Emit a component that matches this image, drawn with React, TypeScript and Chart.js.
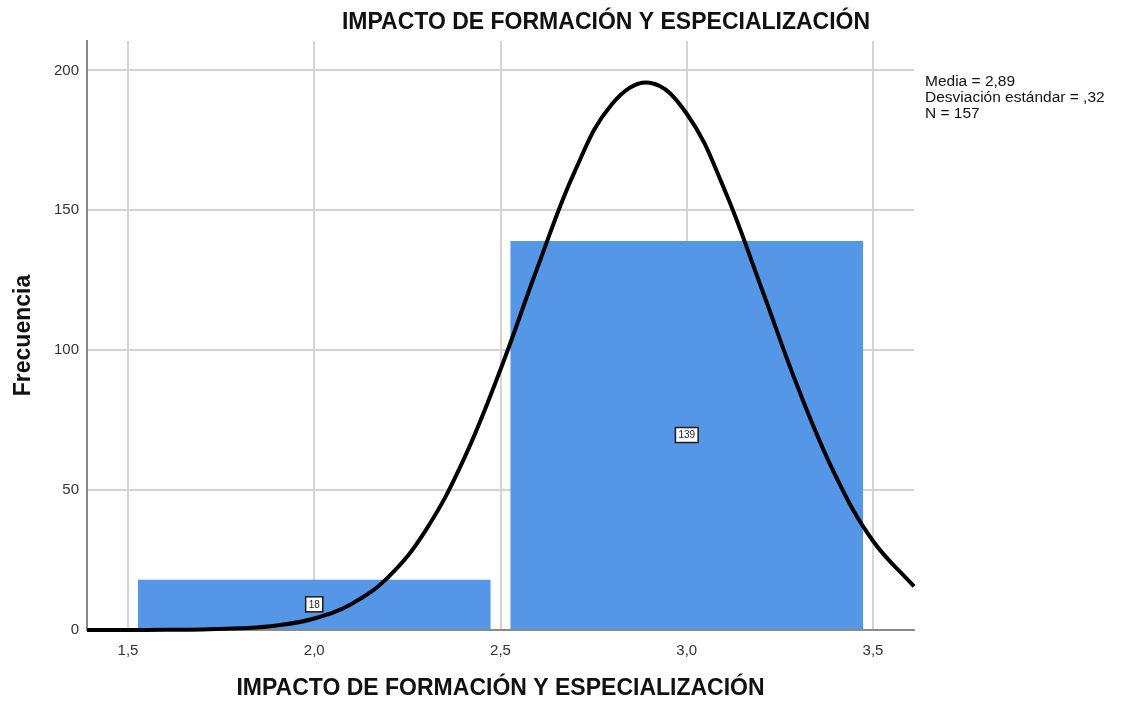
import React, { useEffect, useRef } from "react";
import { Chart, registerables } from "chart.js";

Chart.register(...registerables);

const chartTitle = "IMPACTO DE FORMACIÓN Y ESPECIALIZACIÓN";
const xAxisTitle = "IMPACTO DE FORMACIÓN Y ESPECIALIZACIÓN";
const yAxisTitle = "Frecuencia";
const statsLines = ["Media = 2,89", "Desviación estándar = ,32", "N = 157"];

// histogram bins (centers) and frequencies
const binCenters = [2.0, 3.0];
const binCounts = [18, 139];

// normal curve
const curveX = [1.39, 1.5, 1.6, 1.7, 1.8, 1.9, 2.0, 2.1, 2.2, 2.3, 2.4, 2.5, 2.6, 2.7, 2.8, 2.9, 3.0, 3.1, 3.2, 3.3, 3.4, 3.5, 3.61];
const curveY = [0.0, 0.02, 0.06, 0.19, 0.6, 1.6, 4.1, 9.3, 19.1, 35.8, 60.6, 93.1, 129.8, 164.1, 188.1, 195.6, 184.5, 157.8, 122.4, 86.1, 55.0, 31.8, 15.6];

const xMin = 1.39;
const xMax = 3.61;
const yMax = 210.5;

const FONT = "'Liberation Sans', Arial, sans-serif";

export default function App() {
  const canvasRef = useRef<HTMLCanvasElement | null>(null);

  useEffect(() => {
    if (!canvasRef.current) return;

    const labelPlugin = {
      id: "barLabels",
      afterDatasetsDraw(chart: any) {
        const ctx = chart.ctx;
        const meta = chart.getDatasetMeta(1);
        ctx.save();
        ctx.font = `10px ${FONT}`;
        ctx.textAlign = "center";
        ctx.textBaseline = "middle";
        meta.data.forEach((el: any, i: number) => {
          const cx = el.x;
          const cy = (el.y + el.base) / 2;
          const txt = String(binCounts[i]);
          const w = ctx.measureText(txt).width + 6;
          const h = 15;
          ctx.fillStyle = "#ffffff";
          ctx.fillRect(cx - w / 2, cy - h / 2, w, h);
          ctx.strokeStyle = "#1a1a1a";
          ctx.lineWidth = 1.5;
          ctx.strokeRect(cx - w / 2, cy - h / 2, w, h);
          ctx.fillStyle = "#222";
          ctx.fillText(txt, cx, cy + 0.5);
        });
        ctx.restore();
      },
      afterDraw(chart: any) {
        const ctx = chart.ctx;
        ctx.save();
        ctx.fillStyle = "#111";
        ctx.font = `bold 23px ${FONT}`;
        ctx.textAlign = "center";
        ctx.textBaseline = "middle";
        ctx.fillText(chartTitle, 606, 23);
        ctx.font = `15.5px ${FONT}`;
        ctx.textAlign = "left";
        ctx.textBaseline = "alphabetic";
        statsLines.forEach((s, i) => {
          ctx.fillText(s, 925, 86 + i * 16);
        });
        ctx.restore();
      },
    };

    const chart = new Chart(canvasRef.current, {
      type: "bar",
      data: {
        datasets: [
          {
            type: "line",
            data: curveX.map((x, i) => ({ x, y: curveY[i] })),
            borderColor: "#000000",
            borderWidth: 4,
            pointRadius: 0,
            tension: 0.4,
            fill: false,
            clip: false,
          } as any,
          {
            type: "bar",
            data: binCenters.map((x, i) => ({ x, y: binCounts[i] })),
            backgroundColor: "#5596e6",
            borderWidth: 0,
            barPercentage: 1.893,
            categoryPercentage: 1,
          } as any,
        ],
      },
      options: {
        animation: false,
        responsive: true,
        maintainAspectRatio: false,
        layout: { padding: { left: 0, top: 41, right: 207, bottom: 0 } },
        plugins: {
          legend: { display: false },
          tooltip: { enabled: false },
          title: { display: false },
        },
        scales: {
          x: {
            type: "linear",
            min: xMin,
            max: xMax,
            offset: false,
            afterFit: (s: any) => {
              s.height = 76;
            },
            ticks: {
              stepSize: 0.5,
              includeBounds: false,
              padding: 12,
              color: "#333",
              font: { family: FONT, size: 15 },
              callback: (v: any) => Number(v).toFixed(1).replace(".", ","),
            },
            grid: { color: "#d4d4d4", lineWidth: 2, drawTicks: false, offset: false },
            border: { color: "#8a8a8a", width: 2 },
            title: {
              display: true,
              text: xAxisTitle,
              color: "#111",
              font: { family: FONT, size: 23, weight: "bold" },
            },
          },
          y: {
            type: "linear",
            min: 0,
            max: yMax,
            afterFit: (s: any) => {
              s.width = 87;
            },
            afterBuildTicks: (s: any) => {
              s.ticks = [0, 50, 100, 150, 200].map((v) => ({ value: v }));
            },
            ticks: {
              padding: 8,
              color: "#333",
              font: { family: FONT, size: 15 },
              callback: (v: any) => String(v),
            },
            grid: { color: "#d4d4d4", lineWidth: 2, drawTicks: false },
            border: { color: "#8a8a8a", width: 2 },
            title: {
              display: true,
              text: yAxisTitle,
              color: "#111",
              padding: { top: 10, bottom: 0 },
              font: { family: FONT, size: 23, weight: "bold" },
            },
          },
        },
      },
      plugins: [labelPlugin],
    });

    return () => chart.destroy();
  }, []);

  return (
    <div style={{ position: "absolute", left: 0, top: 0, width: 1121, height: 706, background: "#fff" }}>
      <canvas ref={canvasRef} />
    </div>
  );
}
